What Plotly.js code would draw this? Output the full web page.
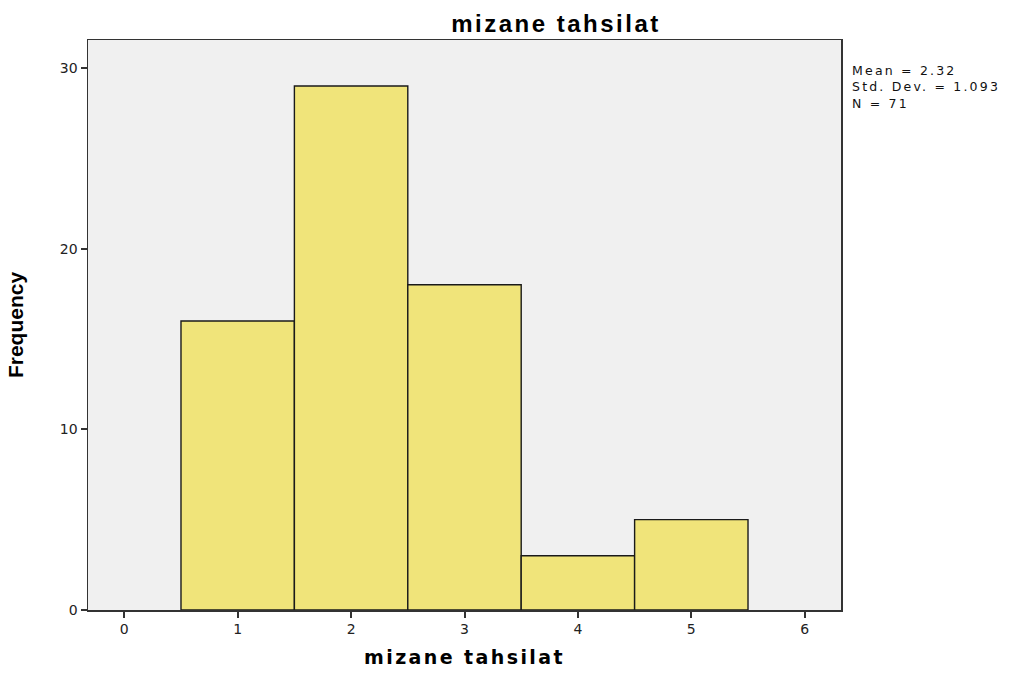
<!DOCTYPE html>
<html>
<head>
<meta charset="utf-8">
<script src="https://cdn.plot.ly/plotly-3.0.1.min.js"></script>
<style>
html,body{margin:0;padding:0;background:#fff;}
#chart{width:1009px;height:675px;}
#chart text.gtitle{letter-spacing:2.5px;}
#chart text.xtitle{letter-spacing:2.4px;}
#chart .annotation text{letter-spacing:2.2px;}
</style>
</head>
<body>
<div id="chart"></div>
<script>
const categories = [1, 2, 3, 4, 5];
const frequencies = [16, 29, 18, 3, 5];
const xTicks = [0, 1, 2, 3, 4, 5, 6];
const yTicks = [0, 10, 20, 30];
const statsLines = ["Mean = 2.32", "Std. Dev. = 1.093", "N = 71"];

const trace = {
  type: 'bar',
  x: categories,
  y: frequencies,
  width: 1,
  marker: { color: '#F0E47A', line: { color: '#1a1a1a', width: 1.4 } },
  hoverinfo: 'x+y'
};

const annotations = [{
  text: statsLines.join('<br>'),
  xref: 'paper', yref: 'paper',
  x: 1.013, y: 0.962,
  xanchor: 'left', yanchor: 'top',
  align: 'left',
  borderpad: 0,
  showarrow: false,
  font: { family: 'DejaVu Sans, Verdana, sans-serif', size: 12.5, color: '#111' }
}];

const layout = {
  width: 1009, height: 675,
  margin: { l: 88, r: 168, t: 40, b: 65 },
  paper_bgcolor: '#ffffff',
  plot_bgcolor: '#F0F0F0',
  bargap: 0,
  showlegend: false,
  title: {
    text: 'mizane tahsilat',
    x: 0.551, xanchor: 'center', xref: 'container',
    y: 0.965, yanchor: 'middle', yref: 'container',
    font: { family: 'Liberation Sans, Arial, sans-serif', size: 24, color: '#000', weight: 'bold' }
  },
  xaxis: {
    range: [-0.32, 6.32],
    tickvals: xTicks,
    ticktext: xTicks.map(String),
    ticks: 'outside', ticklen: 6, tickwidth: 2, tickcolor: '#333',
    showgrid: false, zeroline: false,
    showline: true, linecolor: '#333', linewidth: 1.5, mirror: true,
    tickfont: { family: 'DejaVu Sans, Verdana, sans-serif', size: 14, color: '#222' },
    title: { text: 'mizane tahsilat', standoff: 14,
      font: { family: 'DejaVu Sans, Verdana, sans-serif', size: 19, color: '#000', weight: 'bold' } }
  },
  yaxis: {
    range: [0, 31.55],
    tickvals: yTicks,
    ticktext: yTicks.map(String),
    ticks: 'outside', ticklen: 6, tickwidth: 2, tickcolor: '#333',
    showgrid: false, zeroline: false,
    showline: true, linecolor: '#333', linewidth: 1.5, mirror: true,
    tickfont: { family: 'DejaVu Sans, Verdana, sans-serif', size: 14, color: '#222' },
    title: { text: 'Frequency', standoff: 30,
      font: { family: 'Liberation Sans Narrow, Arial Narrow, Liberation Sans, sans-serif', size: 21, color: '#000', weight: 'bold' } }
  },
  annotations: annotations
};

Plotly.newPlot('chart', [trace], layout, { displayModeBar: false, staticPlot: true });
</script>
</body>
</html>
